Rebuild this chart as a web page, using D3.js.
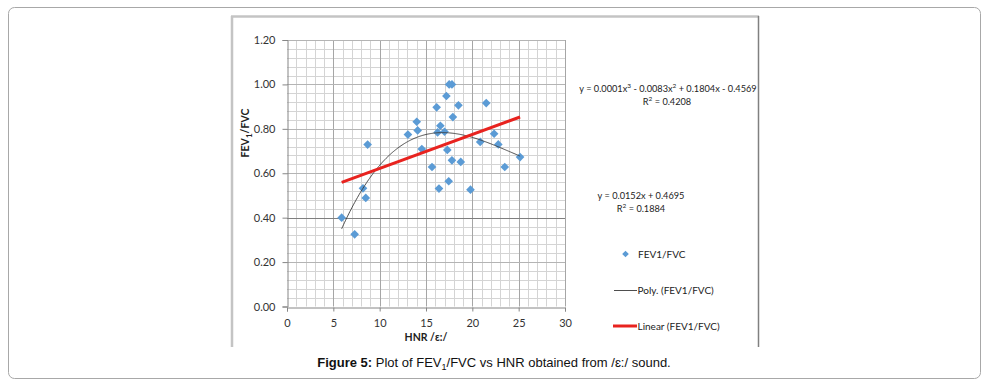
<!DOCTYPE html>
<html><head><meta charset="utf-8">
<script src="https://cdn.jsdelivr.net/npm/d3@7/dist/d3.min.js"></script>
<style>
html,body{margin:0;padding:0;background:#fff;}
svg{display:block;}
</style></head>
<body>
<svg id="chart" width="989" height="389"></svg>
<script>
// ---- data ----
const hnr = [5.9, 7.3, 8.2, 8.5, 8.7, 13.05, 14.0, 14.1, 14.55, 15.65, 16.15, 16.25, 16.4, 16.55, 17.0, 17.2, 17.3, 17.45, 17.5, 17.8, 17.8, 17.9, 18.5, 18.75, 19.8, 20.85, 21.5, 22.35, 22.8, 23.5, 25.15];
const ratio = [0.40, 0.325, 0.532, 0.489, 0.729, 0.774, 0.832, 0.793, 0.709, 0.628, 0.897, 0.784, 0.531, 0.814, 0.787, 0.948, 0.705, 0.564, 1.000, 1.000, 0.658, 0.853, 0.906, 0.651, 0.526, 0.741, 0.916, 0.778, 0.730, 0.628, 0.673];
const xTicks = [0, 5, 10, 15, 20, 25, 30];
const yTicks = [0, 0.2, 0.4, 0.6, 0.8, 1.0, 1.2];
const polyEq = ["y = 0.0001x", "3", " - 0.0083x", "2", " + 0.1804x - 0.4569"];
const polyR2 = "0.4208";
const linEq = "y = 0.0152x + 0.4695";
const linR2 = "0.1884";
const legendLabels = ["FEV1/FVC", "Poly. (FEV1/FVC)", "Linear (FEV1/FVC)"];

// ---- layout ----
const svg = d3.select("#chart");
const X0 = 287, X1 = 565, Y0 = 306.5, Y1 = 40;
const x = d3.scaleLinear().domain([0, 30]).range([X0, X1]);
const y = d3.scaleLinear().domain([0, 1.2]).range([Y0, Y1]);
const calib = "Lato, 'Open Sans', sans-serif";

// outer rounded box
svg.append("rect").attr("x", 8.5).attr("y", 7.5).attr("width", 972).attr("height", 371)
  .attr("rx", 6).attr("fill", "none").attr("stroke", "#a8a8a8").attr("stroke-width", 1);

// inner chart frame
svg.append("line").attr("x1", 231).attr("x2", 759).attr("y1", 16.5).attr("y2", 16.5)
  .attr("stroke", "#c4c4c4").attr("stroke-width", 2.5);
svg.append("line").attr("x1", 232).attr("x2", 232).attr("y1", 16).attr("y2", 347)
  .attr("stroke", "#c4c4c4").attr("stroke-width", 2.5);
svg.append("line").attr("x1", 758.5).attr("x2", 758.5).attr("y1", 16).attr("y2", 347)
  .attr("stroke", "#808080").attr("stroke-width", 1.5);

// minor grid
const g = svg.append("g");
g.selectAll(".mx").data(d3.range(0, 31, 1).filter(v => v % 5 !== 0)).enter().append("line")
  .attr("x1", d => Math.round(x(d)) + 0.5).attr("x2", d => Math.round(x(d)) + 0.5)
  .attr("y1", Y1).attr("y2", Y0).attr("stroke", "#d4d4d4").attr("stroke-width", 1);
g.selectAll(".my").data(d3.range(0, 31, 1).filter(v => v % 5 !== 0).map(v => v * 0.04)).enter().append("line")
  .attr("x1", X0).attr("x2", X1)
  .attr("y1", d => Math.round(y(d)) + 0.5).attr("y2", d => Math.round(y(d)) + 0.5)
  .attr("stroke", "#d4d4d4").attr("stroke-width", 1);
// major grid
g.selectAll(".Mx").data(xTicks.slice(1)).enter().append("line")
  .attr("x1", d => Math.round(x(d)) + 0.5).attr("x2", d => Math.round(x(d)) + 0.5)
  .attr("y1", Y1).attr("y2", Y0).attr("stroke", "#a6a6a6").attr("stroke-width", 1);
g.selectAll(".My").data(yTicks.slice(1)).enter().append("line")
  .attr("x1", X0).attr("x2", X1)
  .attr("y1", d => Math.round(y(d)) + 0.5).attr("y2", d => Math.round(y(d)) + 0.5)
  .attr("stroke", d => Math.abs(d - 0.4) < 1e-9 ? "#7f7f7f" : "#b4b4b4").attr("stroke-width", 1);

// axes
const yAxis = d3.axisLeft(y).tickValues(yTicks).tickFormat(d3.format(".2f")).tickSize(5).tickPadding(7);
const xAxis = d3.axisBottom(x).tickValues(xTicks).tickFormat(d3.format("d")).tickSize(4).tickPadding(8);
const ya = svg.append("g").attr("transform", `translate(${X0 + 0.5},0)`).call(yAxis);
const xa = svg.append("g").attr("transform", `translate(0,${Math.round(Y0) + 0.5})`).call(xAxis);
[ya, xa].forEach(a => {
  a.select(".domain").attr("stroke", "#868686");
  a.selectAll(".tick line").attr("stroke", "#868686");
  a.selectAll("text").attr("fill", "#333").style("font-family", calib).style("font-size", "11px");
});

// axis titles
const yt = svg.append("text").attr("transform", "translate(249,133) rotate(-90)")
  .attr("text-anchor", "middle").style("font-family", calib).style("font-size", "10.5px")
  .style("font-weight", "bold").attr("fill", "#222");
yt.append("tspan").text("FEV");
yt.append("tspan").text("1").attr("dy", 3).style("font-size", "8px");
yt.append("tspan").text("/FVC").attr("dy", -3);
svg.append("text").attr("x", 426).attr("y", 341).attr("text-anchor", "middle")
  .style("font-family", calib).style("font-size", "10.5px").style("font-weight", "bold")
  .attr("fill", "#222").text("HNR /ɛ:/");

// regressions computed from the data
function polyFit(xs, ys, deg) {
  const n = deg + 1;
  const A = Array.from({length: n}, () => new Array(n + 1).fill(0));
  xs.forEach((xv, i) => {
    for (let r = 0; r < n; r++) {
      for (let c = 0; c < n; c++) A[r][c] += Math.pow(xv, r + c);
      A[r][n] += ys[i] * Math.pow(xv, r);
    }
  });
  for (let p = 0; p < n; p++) {
    let m = p;
    for (let r = p + 1; r < n; r++) { if (Math.abs(A[r][p]) > Math.abs(A[m][p])) m = r; }
    const tmp = A[p]; A[p] = A[m]; A[m] = tmp;
    for (let r = 0; r < n; r++) {
      if (r === p) continue;
      const f = A[r][p] / A[p][p];
      for (let c = p; c <= n; c++) A[r][c] -= f * A[p][c];
    }
  }
  return A.map((row, i) => row[n] / row[i]);
}
const cubic = polyFit(hnr, ratio, 3);
const lin = polyFit(hnr, ratio, 1);
const evalP = (co, v) => co.reduce((s, c, i) => s + c * Math.pow(v, i), 0);
const xmin = d3.min(hnr), xmax = d3.max(hnr);
const xs = d3.range(xmin, xmax, 0.1).concat([xmax]);

const line = d3.line().x(d => x(d[0])).y(d => y(d[1]));

// markers
const diamond = d3.symbol().type(d3.symbolDiamond2).size(48);
svg.append("g").selectAll("path").data(hnr.map((h, i) => [h, ratio[i]])).enter().append("path")
  .attr("d", diamond).attr("transform", d => `translate(${x(d[0])},${y(d[1])})`)
  .attr("fill", "#5b9bd5");

svg.append("path").datum(xs.map(v => [v, evalP(cubic, v)])).attr("d", line)
  .attr("fill", "none").attr("stroke", "#3a3a3a").attr("stroke-width", 0.9);
svg.append("path").datum([xmin, xmax].map(v => [v, evalP(lin, v)])).attr("d", line)
  .attr("fill", "none").attr("stroke", "#e8231f").attr("stroke-width", 3);

// equations
const eqStyle = s => s.style("font-family", calib).style("font-size", "9.2px").attr("fill", "#222");
const pe = svg.append("text").attr("x", 668).attr("y", 92).attr("text-anchor", "middle").call(eqStyle);
polyEq.forEach((t, i) => {
  const ts = pe.append("tspan").text(t);
  if (i % 2 === 1) ts.attr("dy", -4).style("font-size", "6.5px");
  else if (i > 0) ts.attr("dy", 4);
});
const pr = svg.append("text").attr("x", 667).attr("y", 104.5).attr("text-anchor", "middle").call(eqStyle);
pr.append("tspan").text("R");
pr.append("tspan").text("2").attr("dy", -4).style("font-size", "6.5px");
pr.append("tspan").text(" = " + polyR2).attr("dy", 4);

svg.append("text").attr("x", 641).attr("y", 199).attr("text-anchor", "middle").call(eqStyle).text(linEq);
const lr = svg.append("text").attr("x", 641).attr("y", 212).attr("text-anchor", "middle").call(eqStyle);
lr.append("tspan").text("R");
lr.append("tspan").text("2").attr("dy", -4).style("font-size", "6.5px");
lr.append("tspan").text(" = " + linR2).attr("dy", 4);

// legend
const lg = svg.append("g");
lg.append("path").attr("d", d3.symbol().type(d3.symbolDiamond2).size(28)).attr("transform", "translate(625.5,254)").attr("fill", "#5b9bd5");
lg.append("line").attr("x1", 614).attr("x2", 637).attr("y1", 290.5).attr("y2", 290.5).attr("stroke", "#3a3a3a").attr("stroke-width", 0.9);
lg.append("line").attr("x1", 613).attr("x2", 637).attr("y1", 326).attr("y2", 326).attr("stroke", "#e8231f").attr("stroke-width", 3);
[[257.5, 0], [294, 1], [329.5, 2]].forEach(([yy, i]) => {
  lg.append("text").attr("x", i === 0 ? 638 : 637.5).attr("y", yy).call(eqStyle).style("font-size", "10px").text(legendLabels[i]);
});

// caption
const cap = svg.append("text").attr("x", 494).attr("y", 367).attr("text-anchor", "middle")
  .style("font-family", "'Liberation Sans', Arial, sans-serif").style("font-size", "13px").attr("fill", "#111");
cap.append("tspan").text("Figure 5:").style("font-weight", "bold");
cap.append("tspan").text(" Plot of FEV");
cap.append("tspan").text("1").attr("dy", 3).style("font-size", "9px");
cap.append("tspan").text("/FVC vs HNR obtained from /ɛ:/ sound.").attr("dy", -3);
</script>
</body></html>
